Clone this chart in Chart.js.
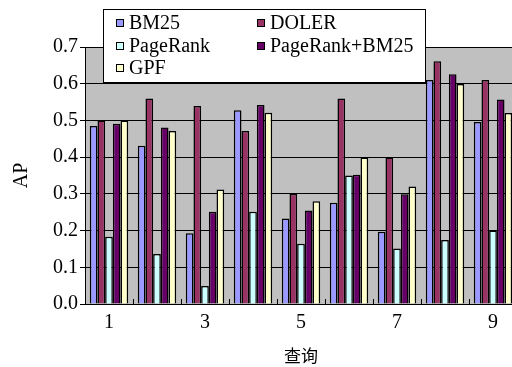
<!DOCTYPE html>
<html>
<head>
<meta charset="utf-8">
<script src="https://cdn.jsdelivr.net/npm/chart.js@4"></script>
<style>
  html, body { margin:0; padding:0; background:#fff; overflow:hidden; }
  #wrap { width:530px; height:367px; }
</style>
</head>
<body>
<div id="wrap"><canvas id="grafico" width="530" height="367"></canvas></div>
<script>
// dados
const categorias = ["1","2","3","4","5","6","7","8","9"];
const bm25      = [0.485, 0.431, 0.193, 0.528, 0.233, 0.276, 0.197, 0.610, 0.496];
const doler     = [0.500, 0.560, 0.539, 0.471, 0.300, 0.560, 0.399, 0.661, 0.610];
const pagerank  = [0.183, 0.136, 0.049, 0.251, 0.164, 0.350, 0.151, 0.174, 0.200];
const prBm25    = [0.491, 0.481, 0.251, 0.542, 0.255, 0.352, 0.299, 0.626, 0.557];
const gpf       = [0.500, 0.471, 0.312, 0.521, 0.280, 0.399, 0.320, 0.599, 0.520];
const yTicks    = [0, 0.1, 0.2, 0.3, 0.4, 0.5, 0.6, 0.7];

const serif = "'Liberation Serif', 'DejaVu Serif', serif";

function serie(label, data, cor){
  return { label, data, backgroundColor: cor, borderColor: '#000', borderWidth: 1.5,
           categoryPercentage: 0.8, barPercentage: 1.0 };
}

// fundo cinza da área do gráfico
const fundo = {
  id: 'fundo',
  beforeDraw(chart){
    const a = chart.chartArea, c = chart.ctx;
    c.save();
    c.fillStyle = '#c0c0c0';
    c.fillRect(a.left, a.top, a.right - a.left, a.bottom - a.top);
    c.restore();
  },
  // marcas pequenas entre categorias (para dentro, como no Excel)
  afterDatasetsDraw(chart){
    const a = chart.chartArea, c = chart.ctx;
    const n = chart.data.labels.length;
    const w = (a.right - a.left) / n;
    c.save();
    c.strokeStyle = '#000';
    c.lineWidth = 1;
    c.beginPath();
    for (let i = 1; i <= n; i++) {
      const x = Math.round(a.left + i * w) + 0.5;
      c.moveTo(x, a.bottom);
      c.lineTo(x, a.bottom - 5);
    }
    c.stroke();
    c.restore();
  }
};

// legenda em caixa branca por cima do gráfico
const legenda = {
  id: 'legenda',
  afterDraw(chart){
    const c = chart.ctx;
    c.save();
    c.fillStyle = '#fff';
    c.fillRect(103.5, 9.5, 322, 73);
    c.strokeStyle = '#000';
    c.lineWidth = 1;
    c.strokeRect(103.5, 9.5, 322, 73);
    const pos = [[116,23],[257,23],[116,46],[257,46],[116,68]];
    c.font = "20px " + serif;
    c.textBaseline = 'middle';
    chart.data.datasets.forEach((ds, i) => {
      const [x, y] = pos[i];
      c.fillStyle = ds.backgroundColor;
      c.fillRect(x + 0.5, y - 3.5, 7, 7);
      c.strokeStyle = '#000';
      c.strokeRect(x + 0.5, y - 3.5, 7, 7);
      c.fillStyle = '#000';
      c.fillText(ds.label, x + 13, y + 1);
    });
    c.restore();
  }
};

new Chart(document.getElementById('grafico').getContext('2d'), {
  type: 'bar',
  data: {
    labels: categorias,
    datasets: [
      serie('BM25', bm25, '#9999ff'),
      serie('DOLER', doler, '#993366'),
      serie('PageRank', pagerank, '#ccffff'),
      serie('PageRank+BM25', prBm25, '#660066'),
      serie('GPF', gpf, '#ffffcc')
    ]
  },
  options: {
    responsive: false,
    animation: false,
    layout: { padding: { top: 47, right: 13, bottom: 0, left: 0 } },
    plugins: { legend: { display: false }, tooltip: { enabled: false } },
    scales: {
      x: {
        afterFit(scale){ scale.height = 63; },
        grid: { display: false, drawTicks: false, tickLength: 0 },
        border: { color: '#000', width: 1 },
        ticks: {
          autoSkip: false, maxRotation: 0, padding: 7, color: '#000',
          font: { family: serif, size: 20 },
          callback: (v, i) => (i % 2 === 0 ? categorias[i] : '')
        },
        title: {
          display: true, text: '查询', color: '#000',
          font: { family: "'Noto Sans CJK SC', sans-serif", size: 17 },
          padding: { top: 10, bottom: 1 }
        }
      },
      y: {
        min: 0, max: 0.7,
        afterFit(scale){ scale.width = 85; },
        afterBuildTicks(scale){ scale.ticks = yTicks.map(v => ({ value: v })); },
        grid: { color: '#000', lineWidth: 1, tickLength: 5 },
        border: { color: '#000', width: 1 },
        ticks: {
          padding: 2, color: '#000',
          font: { family: serif, size: 20 },
          callback: v => Number(v).toFixed(1)
        },
        title: {
          display: true, text: 'AP', color: '#000',
          font: { family: serif, size: 20 },
          padding: { top: 10, bottom: 0 }
        }
      }
    }
  },
  plugins: [fundo, legenda]
});
</script>
</body>
</html>
